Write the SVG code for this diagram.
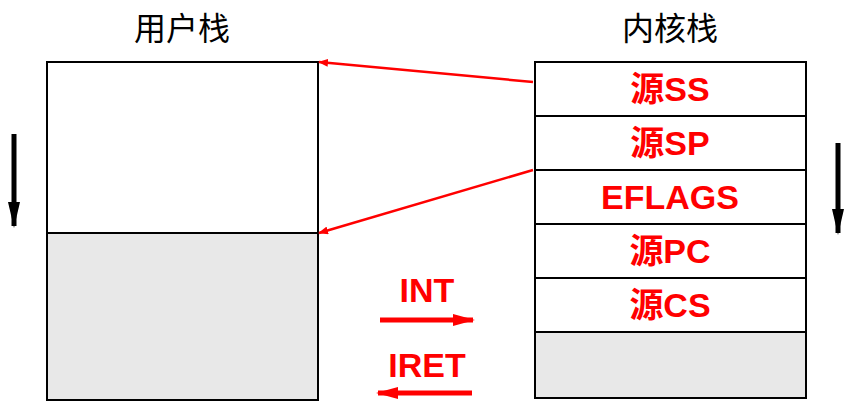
<svg xmlns="http://www.w3.org/2000/svg" width="857" height="419" viewBox="0 0 857 419">
<style>
.box{fill:#fff;stroke:#000;stroke-width:2}
.gray{fill:#e8e8e8;stroke:#000;stroke-width:2}
.t{font-family:"Noto Sans CJK SC","Liberation Sans",sans-serif;font-size:32px;text-anchor:middle}
.r{font-family:"Liberation Sans","Noto Sans CJK SC",sans-serif;font-size:34px;font-weight:bold;fill:#f00;text-anchor:middle}
</style>
<defs>
<marker id="ra" markerWidth="10" markerHeight="8" refX="9" refY="4" orient="auto" markerUnits="userSpaceOnUse"><path d="M0,0L10,4L0,8z" fill="#f00"/></marker>
<marker id="rb" markerWidth="22" markerHeight="12" refX="20" refY="6" orient="auto" markerUnits="userSpaceOnUse"><path d="M0,0L22,6L0,12z" fill="#f00"/></marker>
<marker id="ba" markerWidth="26" markerHeight="12" refX="24" refY="6" orient="auto" markerUnits="userSpaceOnUse"><path d="M0,0L26,6L0,12z" fill="#000"/></marker>
</defs>
<g id="user-stack">
<text class="t" x="182" y="40">用户栈</text>
<rect class="box" x="47" y="62" width="271" height="171"/>
<rect class="gray" x="47" y="233" width="271" height="167"/>
</g>
<g id="kernel-stack">
<text class="t" x="670" y="40">内核栈</text>
<rect class="box" x="535" y="62" width="271" height="54"/>
<rect class="box" x="535" y="116" width="271" height="54"/>
<rect class="box" x="535" y="170" width="271" height="54"/>
<rect class="box" x="535" y="224" width="271" height="54"/>
<rect class="box" x="535" y="278" width="271" height="54"/>
<rect class="gray" x="535" y="332" width="271" height="66"/>
<text class="r" x="670" y="101">源SS</text>
<text class="r" x="670" y="155">源SP</text>
<text class="r" x="670" y="209">EFLAGS</text>
<text class="r" x="670" y="263">源PC</text>
<text class="r" x="670" y="317">源CS</text>
</g>
<g id="labels">
<text class="r" x="427" y="302">INT</text>
<text class="r" x="427" y="377">IRET</text>
</g>
<g id="connectors">
<line x1="533" y1="82" x2="319" y2="62" stroke="#f00" stroke-width="2.5" marker-end="url(#ra)"/>
<line x1="533" y1="170" x2="319" y2="233" stroke="#f00" stroke-width="2.5" marker-end="url(#ra)"/>
<line x1="380" y1="320" x2="473" y2="320" stroke="#f00" stroke-width="5" marker-end="url(#rb)"/>
<line x1="472" y1="393" x2="378" y2="393" stroke="#f00" stroke-width="5" marker-end="url(#rb)"/>
<line x1="14" y1="134" x2="14" y2="226" stroke="#000" stroke-width="5" marker-end="url(#ba)"/>
<line x1="838" y1="143" x2="838" y2="233" stroke="#000" stroke-width="5" marker-end="url(#ba)"/>
</g>
</svg>
